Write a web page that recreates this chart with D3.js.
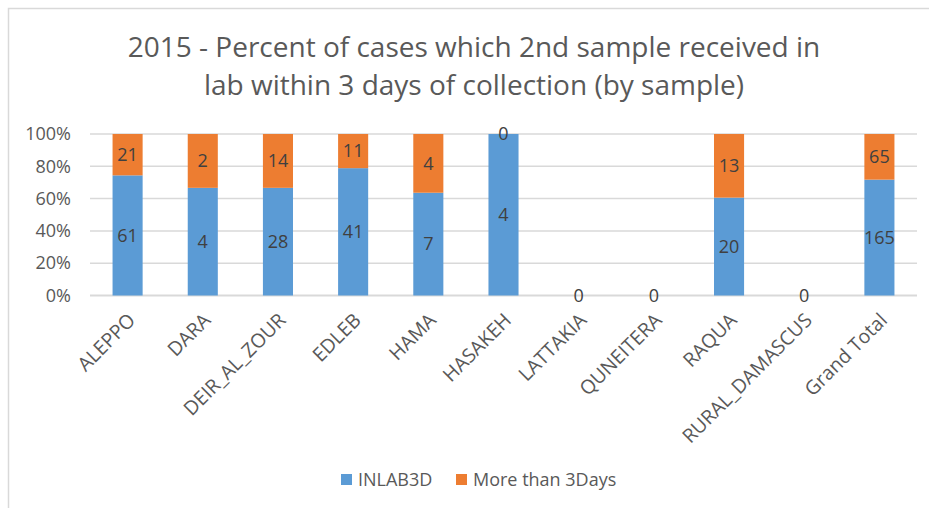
<!DOCTYPE html>
<html>
<head>
<meta charset="utf-8">
<script src="https://cdn.jsdelivr.net/npm/d3@7"></script>
<style>
  body { margin: 0; background: #fff; }
  text { font-family: "Open Sans", "Noto Sans", sans-serif; fill: #595959; }
</style>
</head>
<body>
<div id="chart"></div>
<script>
// chart data
var categories = ["ALEPPO", "DARA", "DEIR_AL_ZOUR", "EDLEB", "HAMA", "HASAKEH",
                  "LATTAKIA", "QUNEITERA", "RAQUA", "RURAL_DAMASCUS", "Grand Total"];
var inlab3d   = [61, 4, 28, 41, 7, 4, 0, 0, 20, 0, 165];
var moreThan3 = [21, 2, 14, 11, 4, 0, 0, 0, 13, 0, 65];
var seriesNames = ["INLAB3D", "More than 3Days"];
var yTicks = [0, 0.2, 0.4, 0.6, 0.8, 1];
var titleLines = ["2015 - Percent of cases which 2nd sample received in",
                  "lab within 3 days of collection (by sample)"];

var width = 929, height = 508;
var margin = {top: 134, right: 12, bottom: 212.5, left: 90};
var plotW = width - margin.left - margin.right,
    plotH = height - margin.top - margin.bottom;
var colors = ["#5b9bd5", "#ed7d31"];

var svg = d3.select("#chart").append("svg")
    .attr("width", width)
    .attr("height", height);

// outer frame (only top/left visible in the picture)
svg.append("path")
    .attr("d", "M8.5," + height + "V8.5H" + width)
    .attr("fill", "none")
    .attr("stroke", "#d9d9d9")
    .attr("stroke-width", 1.5);

// title
svg.append("text")
    .attr("text-anchor", "middle")
    .style("font-size", "28px")
    .selectAll("tspan")
    .data(titleLines)
    .enter().append("tspan")
    .attr("x", 474)
    .attr("y", function(d, i) { return 57 + i * 38; })
    .text(function(d) { return d; });

var g = svg.append("g")
    .attr("transform", "translate(" + margin.left + "," + margin.top + ")");

var x = d3.scaleBand().domain(categories).range([0, plotW]).paddingInner(0.6).paddingOuter(0.3);
var y = d3.scaleLinear().domain([0, 1]).range([plotH, 0]);

// gridlines
g.selectAll(".grid")
    .data(yTicks)
    .enter().append("line")
    .attr("x1", 0)
    .attr("x2", plotW)
    .attr("y1", function(d) { return y(d); })
    .attr("y2", function(d) { return y(d); })
    .attr("stroke", "#d9d9d9")
    .attr("stroke-width", function(d) { return d === 0 ? 2 : 1.5; });

// y axis
var yAxis = d3.axisLeft(y).tickValues(yTicks).tickFormat(d3.format(".0%")).tickSize(0).tickPadding(19);
g.append("g").call(yAxis)
    .call(function(s) { s.select(".domain").remove(); })
    .selectAll("text")
    .style("font-size", "18px")
    .attr("fill", "#595959");

// stacked data
var rows = categories.map(function(c, i) {
    var tot = inlab3d[i] + moreThan3[i];
    return {cat: c, vals: [inlab3d[i], moreThan3[i]], tot: tot};
});

rows.forEach(function(r) {
    var acc = 0;
    r.segs = r.vals.map(function(v, k) {
        var f0 = r.tot ? acc / r.tot : 0;
        acc += v;
        var f1 = r.tot ? acc / r.tot : 0;
        return {k: k, v: v, f0: f0, f1: f1};
    });
});

var bars = g.selectAll(".bar")
    .data(rows)
    .enter().append("g")
    .attr("transform", function(d) { return "translate(" + x(d.cat) + ",0)"; });

bars.selectAll("rect")
    .data(function(d) { return d.segs; })
    .enter().append("rect")
    .attr("x", 0)
    .attr("width", x.bandwidth())
    .attr("y", function(d) { return y(d.f1); })
    .attr("height", function(d) { return y(d.f0) - y(d.f1); })
    .attr("fill", function(d) { return colors[d.k]; });

// value labels
bars.each(function(d) {
    var sel = d3.select(this);
    var labels = d.tot ? d.segs : [d.segs[0]];
    sel.selectAll(".lbl")
        .data(labels)
        .enter().append("text")
        .attr("x", x.bandwidth() / 2)
        .attr("y", function(s) { return y((s.f0 + s.f1) / 2); })
        .attr("dy", "0.35em")
        .attr("text-anchor", "middle")
        .style("font-size", "18px")
        .style("fill", "#404040")
        .text(function(s) { return s.v; });
});

// x axis labels
var xAxis = d3.axisBottom(x).tickSize(0).tickPadding(0);
g.append("g")
    .attr("transform", "translate(0," + plotH + ")")
    .call(xAxis)
    .call(function(s) { s.select(".domain").remove(); })
    .selectAll("text")
    .style("font-size", "19.5px")
    .attr("fill", "#595959")
    .attr("text-anchor", "end")
    .attr("dy", null)
    .attr("y", 0)
    .attr("transform", "translate(9,26) rotate(-45)");

// legend
var legend = svg.append("g");
var legX = [341, 456];
seriesNames.forEach(function(n, i) {
    legend.append("rect")
        .attr("x", legX[i])
        .attr("y", 474)
        .attr("width", 11)
        .attr("height", 11)
        .attr("fill", colors[i]);
    legend.append("text")
        .attr("x", legX[i] + 17)
        .attr("y", 486)
        .style("font-size", "18px")
        .text(n);
});
</script>
</body>
</html>
